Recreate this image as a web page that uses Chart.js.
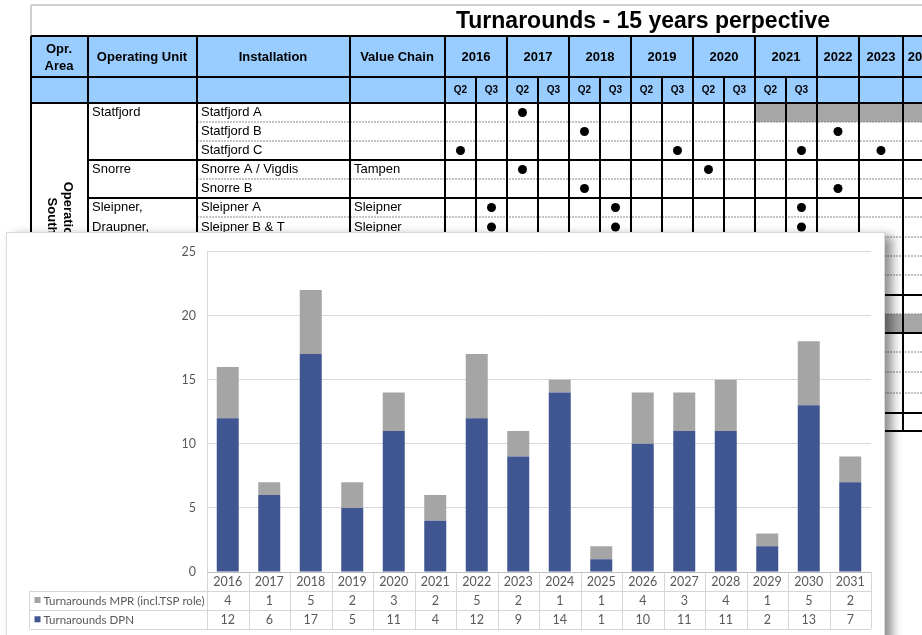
<!DOCTYPE html>
<html>
<head>
<meta charset="utf-8">
<script src="https://cdn.jsdelivr.net/npm/chart.js@4"></script>
<style>
  body { margin: 0; background: #fff; width: 922px; height: 635px; overflow: hidden; position: relative; }
  #sheet { position: absolute; left: 0; top: 0; }
  #panel {
    position: absolute; left: 6px; top: 232px; width: 879px; height: 420px;
    background: #fff; border: 1px solid #d9d9d9; box-sizing: border-box;
    box-shadow: 7px 4px 10px rgba(0, 0, 0, 0.45);
  }
  #chart { position: absolute; left: 0; top: 0; }
</style>
</head>
<body>
<canvas id="sheet" width="922" height="635"></canvas>
<div id="panel"><canvas id="chart" width="877" height="403"></canvas></div>
<script>
const years = ["2016", "2017", "2018", "2019", "2020", "2021", "2022", "2023",
               "2024", "2025", "2026", "2027", "2028", "2029", "2030", "2031"];
const mprValues = [4, 1, 5, 2, 3, 2, 5, 2, 1, 1, 4, 3, 4, 1, 5, 2];
const dpnValues = [12, 6, 17, 5, 11, 4, 12, 9, 14, 1, 10, 11, 11, 2, 13, 7];
const mprLabel = "Turnarounds MPR (incl.TSP role)";
const dpnLabel = "Turnarounds DPN";
const yMax = 25;
const yStep = 5;

// background spreadsheet (just the screenshot behind the chart)
const sheetYears = ["2016", "2017", "2018", "2019", "2020", "2021", "2022", "2023", "20"];
const installations = ["Statfjord A", "Statfjord B", "Statfjord C", "Snorre A / Vigdis", "Snorre B", "Sleipner A", "Sleipner B & T"];
const units = { 0: "Statfjord", 3: "Snorre", 5: "Sleipner,", 6: "Draupner," };
const chains = { 3: "Tampen", 5: "Sleipner", 6: "Sleipner" };
const dots = [[6], [8, 16], [4, 11, 15, 17], [6, 12], [8, 16], [5, 9, 15], [5, 9, 15]];

const colX = [31, 88, 197, 350, 445, 476, 507, 538, 569, 600, 631, 662, 693, 724, 755, 786, 817, 859, 903, 960];
const rowY = [103, 122, 141, 160, 179, 198, 217, 237, 256, 275, 295, 314, 333, 352, 372, 393, 413, 431];
const groupRows = [0, 3, 5, 10, 12, 16, 17];

function drawSheet() {
    const c = document.getElementById("sheet").getContext("2d");
    const line = (x1, y1, x2, y2) => { c.beginPath(); c.moveTo(x1, y1); c.lineTo(x2, y2); c.stroke(); };

    c.strokeStyle = "#cfcfcf";
    c.lineWidth = 2;
    line(31, 5, 922, 5);
    line(31, 5, 31, 36);

    c.fillStyle = "#99ccff";
    c.fillRect(31, 36, 891, 67);
    c.fillStyle = "#a6a6a6";
    c.fillRect(755, 103, 167, 19);
    c.fillRect(445, 314, 477, 19);

    c.fillStyle = "#000";
    c.font = "bold 23px 'Liberation Sans', Arial";
    c.textAlign = "center";
    c.textBaseline = "middle";
    c.fillText("Turnarounds - 15 years perpective", 643, 22);

    c.font = "bold 13px 'Liberation Sans', Arial";
    c.fillText("Opr.", 59, 49);
    c.fillText("Area", 59, 66);
    c.fillText("Operating Unit", 142, 57);
    c.fillText("Installation", 273, 57);
    c.fillText("Value Chain", 397, 57);
    sheetYears.forEach((y, i) => {
        let a, b;
        if (i < 6) { a = colX[4 + i * 2]; b = colX[6 + i * 2]; }
        else { a = colX[16 + i - 6]; b = colX[17 + i - 6]; }
        c.fillText(y, i < 8 ? (a + b) / 2 : a + 12, 57);
    });
    c.font = "bold 10px 'Liberation Sans', Arial";
    for (let k = 4; k < 16; k++) {
        c.fillText(k % 2 === 0 ? "Q2" : "Q3", (colX[k] + colX[k + 1]) / 2, 90);
    }

    // header lines
    c.strokeStyle = "#000";
    c.lineWidth = 2;
    line(31, 36, 922, 36);
    line(31, 77, 922, 77);
    line(31, 103, 922, 103);
    colX.forEach((x, k) => {
        const inYear = k >= 5 && k <= 15 && k % 2 === 1;
        if (!inYear) line(x, 36, x, 103);
        else line(x, 77, x, 103);
    });

    // body rows
    for (let r = 1; r < rowY.length; r++) {
        const y = rowY[r];
        if (groupRows.includes(r)) {
            c.strokeStyle = "#000"; c.lineWidth = 2; c.setLineDash([]);
            line(88, y, 922, y);
        } else {
            c.strokeStyle = "#8a8a8a"; c.lineWidth = 1.2; c.setLineDash([2, 1]);
            line(197, y, 922, y);
        }
    }
    c.setLineDash([]);
    c.strokeStyle = "#000";
    c.lineWidth = 2;
    colX.forEach(x => line(x, 103, x, 431));

    c.font = "13px 'Liberation Sans', Arial";
    c.textAlign = "left";
    installations.forEach((t, r) => {
        const cy = (rowY[r] + rowY[r + 1]) / 2;
        c.fillText(t, 201, cy);
        if (units[r]) c.fillText(units[r], 92, cy);
        if (chains[r]) c.fillText(chains[r], 354, cy);
        dots[r].forEach(k => {
            c.beginPath();
            c.arc((colX[k] + colX[k + 1]) / 2, cy, 4.5, 0, Math.PI * 2);
            c.fill();
        });
    });

    c.save();
    c.translate(60, 216);
    c.rotate(Math.PI / 2);
    c.textAlign = "center";
    c.font = "bold 13px 'Liberation Sans', Arial";
    c.fillText("Operations", 0, -8);
    c.fillText("South", 0, 8);
    c.restore();
}

drawSheet();

const chartFont = "Lato, 'Open Sans', sans-serif";
const textColor = "#595959";

// Excel-style data table under the plot, positioned from the x scale
const dataTable = {
    id: "dataTable",
    afterDraw(chart) {
        const { ctx, chartArea: a, scales: { x } } = chart;
        const step = x.getPixelForValue(1) - x.getPixelForValue(0);
        const start = x.getPixelForValue(0) - step / 2;
        const rows = [a.bottom, a.bottom + 18.5, a.bottom + 37.5, a.bottom + 57];
        const tableLeft = 22.5;
        const ds = chart.data.datasets;
        const tableRows = [ds[1], ds[0]];

        ctx.save();
        ctx.lineWidth = 1;
        ctx.strokeStyle = "#d6d6d6";
        const line = (x1, y1, x2, y2) => { ctx.beginPath(); ctx.moveTo(x1, y1); ctx.lineTo(x2, y2); ctx.stroke(); };
        for (let r = 1; r < rows.length; r++) line(tableLeft, Math.round(rows[r]) + 0.5, a.right, Math.round(rows[r]) + 0.5);
        for (let i = 0; i <= years.length; i++) {
            const xx = Math.round(start + i * step) + 0.5;
            line(xx, rows[0], xx, rows[3]);
        }
        line(tableLeft, rows[1], tableLeft, rows[3]);
        ctx.strokeStyle = "#bfbfbf";
        line(a.left, Math.round(rows[0]) + 0.5, a.right, Math.round(rows[0]) + 0.5);

        ctx.fillStyle = textColor;
        ctx.font = "12.5px " + chartFont;
        ctx.textAlign = "center";
        ctx.textBaseline = "middle";
        years.forEach((y, i) => {
            const cx = x.getPixelForValue(i);
            ctx.fillText(y, cx, (rows[0] + rows[1]) / 2 + 1);
            tableRows.forEach((d, r) => {
                ctx.fillText(String(d.data[i]), cx, (rows[r + 1] + rows[r + 2]) / 2 + 1);
            });
        });
        ctx.textAlign = "left";
        ctx.font = "11.5px " + chartFont;
        tableRows.forEach((d, r) => {
            const cy = (rows[r + 1] + rows[r + 2]) / 2;
            ctx.fillStyle = d.backgroundColor;
            ctx.fillRect(tableLeft + 5, cy - 3, 6, 6);
            ctx.fillStyle = textColor;
            ctx.fillText(d.label, tableLeft + 14, cy + 1);
        });
        ctx.restore();
    }
};

new Chart(document.getElementById("chart"), {
    type: "bar",
    data: {
        labels: years,
        datasets: [
            { label: dpnLabel, data: dpnValues, backgroundColor: "#3f5690" },
            { label: mprLabel, data: mprValues, backgroundColor: "#a5a5a5" },
        ],
    },
    options: {
        responsive: false,
        animation: false,
        layout: { padding: { left: 0, top: 13, right: 13, bottom: 64 } },
        datasets: { bar: { categoryPercentage: 1, barPercentage: 0.53 } },
        plugins: { legend: { display: false }, tooltip: { enabled: false } },
        scales: {
            x: { stacked: true, display: false },
            y: {
                stacked: true,
                min: 0,
                max: yMax,
                ticks: { stepSize: yStep, padding: 11, color: textColor, font: { family: chartFont, size: 12.5 } },
                grid: { color: "#d9d9d9", drawTicks: false },
                border: { color: "#d9d9d9" },
                afterFit(scale) { scale.width = 200; },
            },
        },
    },
    plugins: [dataTable],
});
</script>
</body>
</html>
